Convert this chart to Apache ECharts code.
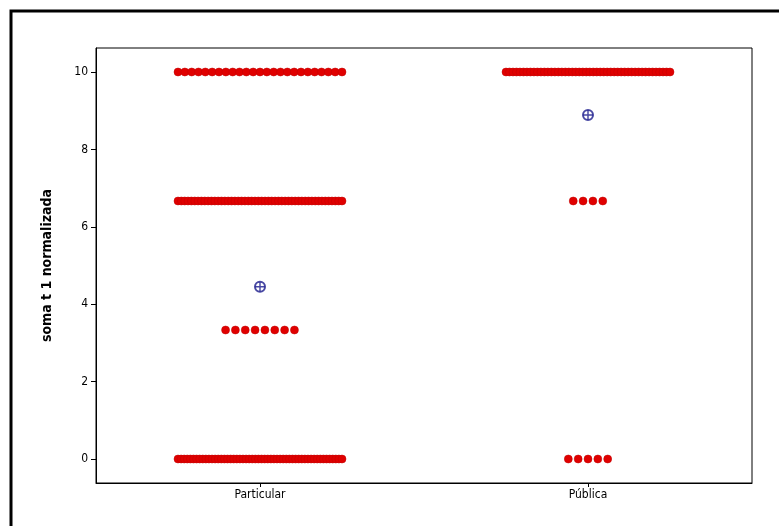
<!DOCTYPE html>
<html>
<head>
<meta charset="utf-8">
<script src="https://cdn.jsdelivr.net/npm/echarts@6/dist/echarts.min.js"></script>
<style>html,body{margin:0;padding:0;background:#fff}#c{width:779px;height:526px}</style>
</head>
<body>
<div id="c"></div>
<script>
// Categories and data
const categories = ['Particular', 'Pública'];
const levels = [0, 3.333, 6.667, 10];
const particularCounts = [54, 8, 50, 25];   // counts at each level
const publicaCounts = [5, 0, 4, 48];
const means = [4.45, 8.89];
const yTicks = [0, 2, 4, 6, 8, 10];

// expand to individual points, spread horizontally (jitter layout only)
function expand(catIndex, counts) {
  const pts = [];
  const center = catIndex + 1;
  counts.forEach((n, li) => {
    if (!n) return;
    const step = n > 1 ? Math.min(0.03, 0.5 / (n - 1)) : 0;
    const w = step * (n - 1);
    for (let i = 0; i < n; i++) {
      pts.push([center - w / 2 + i * step, levels[li]]);
    }
  });
  return pts;
}
const points = expand(0, particularCounts).concat(expand(1, publicaCounts));
const meanPts = means.map((m, i) => [i + 1, m]);

const chart = echarts.init(document.getElementById('c'));
chart.setOption({
  animation: false,
  backgroundColor: '#fff',
  graphic: [{
    type: 'rect', shape: { x: 11, y: 11, width: 800, height: 600 },
    style: { fill: 'none', stroke: '#000', lineWidth: 3 }, z: 100
  }],
  grid: { left: 96, top: 48, right: 27, bottom: 43, show: true, borderColor: '#000', borderWidth: 1, backgroundColor: '#fff' },
  xAxis: {
    type: 'value', min: 0.5, max: 2.5,
    splitLine: { show: false },
    axisLine: { onZero: false, lineStyle: { color: '#000' } },
    axisTick: { customValues: [1, 2], length: 4, lineStyle: { color: '#000' } },
    axisLabel: {
      customValues: [1, 2], color: '#000', fontSize: 12, fontFamily: 'DejaVu Sans Condensed, sans-serif', margin: 6,
      formatter: v => categories[Math.round(v) - 1]
    }
  },
  yAxis: {
    type: 'value', min: -0.62, max: 10.62,
    name: 'soma t 1 normalizada', nameLocation: 'middle', nameGap: 42,
    nameTextStyle: { color: '#000', fontSize: 14, fontWeight: 'bold', fontFamily: 'DejaVu Sans Condensed, sans-serif' },
    splitLine: { show: false },
    axisLine: { show: true, onZero: false, lineStyle: { color: '#000' } },
    axisTick: { show: true, customValues: yTicks, length: 5, lineStyle: { color: '#000' } },
    axisLabel: { customValues: yTicks, color: '#000', fontSize: 12, fontFamily: 'DejaVu Sans Condensed, sans-serif', margin: 8 }
  },
  series: [
    {
      type: 'scatter', data: points, symbol: 'circle', symbolSize: 8,
      itemStyle: { color: '#e00000', borderColor: '#c00000', borderWidth: 0.5, opacity: 1 }
    },
    {
      type: 'scatter', data: meanPts, symbol: 'circle', symbolSize: 10, z: 5,
      itemStyle: { color: '#fff', borderColor: '#1a1a8c', borderWidth: 2 }
    },
    {
      type: 'scatter', data: meanPts, z: 6,
      symbol: 'path://M-0.8,-5 L0.8,-5 L0.8,5 L-0.8,5 Z M-5,-0.8 L5,-0.8 L5,0.8 L-5,0.8 Z', symbolSize: 9,
      itemStyle: { color: '#1a1a8c' }
    }
  ]
});
</script>
</body>
</html>
